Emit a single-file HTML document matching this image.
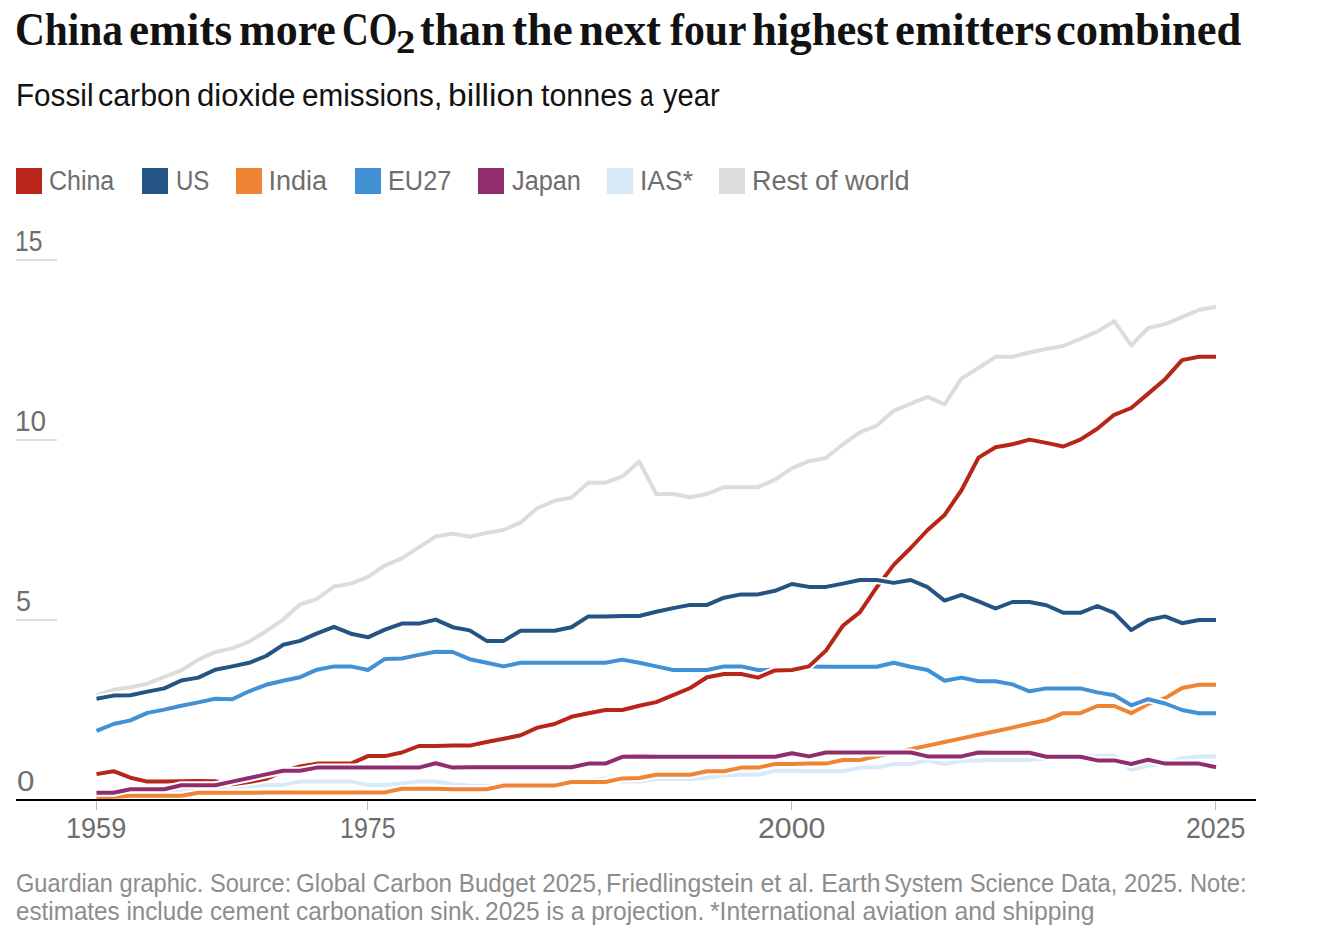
<!DOCTYPE html>
<html><head><meta charset="utf-8">
<style>
html,body{margin:0;padding:0;background:#fff;}
body{width:1322px;height:942px;position:relative;overflow:hidden;font-family:"Liberation Sans",sans-serif;}
.t{position:absolute;white-space:nowrap;}
.tw{top:2.4px;font-family:"Liberation Serif",serif;font-weight:bold;font-size:47px;color:#121212;line-height:54px;transform-origin:0 0;}
.sw{top:78px;font-size:31px;color:#121212;line-height:36px;transform-origin:0 0;}
.sq{position:absolute;top:168px;width:26px;height:26px;}
.lg{position:absolute;top:165px;transform-origin:0 0;font-size:27px;color:#6e6e6e;line-height:32px;}
.yl{position:absolute;font-size:29px;color:#6e6e6e;line-height:34px;transform-origin:0 0;}
.xl{position:absolute;top:811px;font-size:29px;color:#6e6e6e;line-height:34px;transform-origin:0 0;}
.foot{font-size:25px;color:#8d8d8d;line-height:28px;transform-origin:0 0;}
svg{position:absolute;left:0;top:0;}
.h{fill:none;stroke:#fff;stroke-width:8px;stroke-linejoin:round;}
.l{fill:none;stroke-width:4px;stroke-linejoin:round;}
</style></head><body>
<div class="t tw" style="left:15.24px;transform:scaleX(0.880)">China</div>
<div class="t tw" style="left:129.27px;transform:scaleX(0.964)">emits</div>
<div class="t tw" style="left:239.06px;transform:scaleX(0.936)">more</div>
<div class="t tw" style="left:342.13px;transform:scaleX(0.785)">CO</div>
<div class="t tw" style="left:420.06px;transform:scaleX(0.936)">than</div>
<div class="t tw" style="left:512.03px;transform:scaleX(0.970)">the</div>
<div class="t tw" style="left:579.05px;transform:scaleX(0.952)">next</div>
<div class="t tw" style="left:670.20px;transform:scaleX(0.890)">four</div>
<div class="t tw" style="left:752.05px;transform:scaleX(0.951)">highest</div>
<div class="t tw" style="left:894.90px;transform:scaleX(0.953)">emitters</div>
<div class="t tw" style="left:1055.60px;transform:scaleX(0.946)">combined</div>
<div class="t tw" style="left:395.66px;top:14.6px;font-size:33px;transform:scaleX(1.17)">2</div>
<div class="t sw" style="left:15.69px;transform:scaleX(0.957)">Fossil</div>
<div class="t sw" style="left:98.32px;transform:scaleX(0.979)">carbon</div>
<div class="t sw" style="left:196.90px;transform:scaleX(1.003)">dioxide</div>
<div class="t sw" style="left:302.04px;transform:scaleX(0.957)">emissions,</div>
<div class="t sw" style="left:447.63px;transform:scaleX(1.084)">billion</div>
<div class="t sw" style="left:541.40px;transform:scaleX(0.981)">tonnes</div>
<div class="t sw" style="left:639.91px;transform:scaleX(0.787)">a</div>
<div class="t sw" style="left:662.50px;transform:scaleX(0.939)">year</div>

<div class="sq" style="left:16px;background:#b8261a"></div><div class="t lg" style="left:49px;transform:scaleX(0.925)">China</div>
<div class="sq" style="left:142px;background:#245484"></div><div class="t lg" style="left:175.7px;transform:scaleX(0.89)">US</div>
<div class="sq" style="left:236px;background:#ee8434"></div><div class="t lg" style="left:268.5px;transform:scaleX(1.0)">India</div>
<div class="sq" style="left:355px;background:#4191d4"></div><div class="t lg" style="left:388.1px;transform:scaleX(0.937)">EU27</div>
<div class="sq" style="left:478px;background:#8f2d6e"></div><div class="t lg" style="left:511.6px;transform:scaleX(0.936)">Japan</div>
<div class="sq" style="left:607px;background:#d8e9fa"></div><div class="t lg" style="left:639.7px;transform:scaleX(0.98)">IAS*</div>
<div class="sq" style="left:719px;background:#dcdcdc"></div><div class="t lg" style="left:752px;transform:scaleX(1.0)">Rest of world</div>

<svg width="1322" height="942" viewBox="0 0 1322 942">
<rect x="16" y="259" width="41" height="2" fill="#dcdcdc"/>
<rect x="16" y="439" width="41" height="2" fill="#dcdcdc"/>
<rect x="16" y="619" width="41" height="2" fill="#dcdcdc"/>
<rect x="96" y="801" width="1" height="9" fill="#bdbdbd"/>
<rect x="367" y="801" width="1" height="9" fill="#bdbdbd"/>
<rect x="791" y="801" width="1" height="9" fill="#bdbdbd"/>
<rect x="1215" y="801" width="1" height="9" fill="#bdbdbd"/>
<path d="M96.5,695.2L113.5,689.8L130.4,687.3L147.4,683.7L164.3,676.9L181.3,670.4L198.3,659.6L215.2,652.0L232.2,648.4L249.2,641.6L266.1,631.2L283.1,619.6L300.0,604.5L317.0,598.8L334.0,586.5L350.9,583.6L367.9,576.8L384.9,565.3L401.8,558.4L418.8,547.3L435.7,536.5L452.7,533.6L469.7,536.8L486.6,532.9L503.6,530.0L520.6,522.4L537.5,508.0L554.5,500.8L571.4,497.6L588.4,482.8L605.4,482.8L622.3,476.4L639.3,461.6L656.2,494.0L673.2,494.0L690.2,497.2L707.1,494.0L724.1,487.2L741.1,487.2L758.0,487.2L775.0,479.6L791.9,468.4L808.9,461.2L825.9,458.0L842.8,444.3L859.8,432.4L876.8,425.6L893.7,410.8L910.7,403.6L927.6,396.8L944.6,404.4L961.6,378.4L978.5,368.0L995.5,356.8L1012.5,356.8L1029.4,352.5L1046.4,348.9L1063.3,346.0L1080.3,338.8L1097.3,331.6L1114.2,321.2L1131.2,345.3L1148.2,328.0L1165.1,324.1L1182.1,317.2L1199.0,310.0L1216.0,306.8" class="h"/>
<path d="M96.5,695.2L113.5,689.8L130.4,687.3L147.4,683.7L164.3,676.9L181.3,670.4L198.3,659.6L215.2,652.0L232.2,648.4L249.2,641.6L266.1,631.2L283.1,619.6L300.0,604.5L317.0,598.8L334.0,586.5L350.9,583.6L367.9,576.8L384.9,565.3L401.8,558.4L418.8,547.3L435.7,536.5L452.7,533.6L469.7,536.8L486.6,532.9L503.6,530.0L520.6,522.4L537.5,508.0L554.5,500.8L571.4,497.6L588.4,482.8L605.4,482.8L622.3,476.4L639.3,461.6L656.2,494.0L673.2,494.0L690.2,497.2L707.1,494.0L724.1,487.2L741.1,487.2L758.0,487.2L775.0,479.6L791.9,468.4L808.9,461.2L825.9,458.0L842.8,444.3L859.8,432.4L876.8,425.6L893.7,410.8L910.7,403.6L927.6,396.8L944.6,404.4L961.6,378.4L978.5,368.0L995.5,356.8L1012.5,356.8L1029.4,352.5L1046.4,348.9L1063.3,346.0L1080.3,338.8L1097.3,331.6L1114.2,321.2L1131.2,345.3L1148.2,328.0L1165.1,324.1L1182.1,317.2L1199.0,310.0L1216.0,306.8" stroke="#dcdcdc" class="l"/>
<path d="M96.5,792.1L113.5,791.7L130.4,791.4L147.4,790.3L164.3,789.9L181.3,789.9L198.3,789.2L215.2,788.1L232.2,787.0L249.2,786.3L266.1,784.9L283.1,784.9L300.0,781.6L317.0,781.6L334.0,781.6L350.9,781.6L367.9,784.9L384.9,784.9L401.8,783.4L418.8,781.6L435.7,781.6L452.7,784.2L469.7,785.6L486.6,786.0L503.6,786.0L520.6,785.6L537.5,785.2L554.5,784.9L571.4,783.4L588.4,780.2L605.4,778.4L622.3,781.6L639.3,781.6L656.2,779.1L673.2,779.1L690.2,779.1L707.1,777.7L724.1,775.2L741.1,774.8L758.0,774.8L775.0,770.8L791.9,770.8L808.9,771.2L825.9,771.2L842.8,771.2L859.8,767.6L876.8,767.6L893.7,764.0L910.7,764.0L927.6,760.4L944.6,764.0L961.6,760.8L978.5,760.4L995.5,760.0L1012.5,760.0L1029.4,760.0L1046.4,758.6L1063.3,757.5L1080.3,756.8L1097.3,755.7L1114.2,755.7L1131.2,769.8L1148.2,765.8L1165.1,763.3L1182.1,757.9L1199.0,756.4L1216.0,756.4" class="h"/>
<path d="M96.5,792.1L113.5,791.7L130.4,791.4L147.4,790.3L164.3,789.9L181.3,789.9L198.3,789.2L215.2,788.1L232.2,787.0L249.2,786.3L266.1,784.9L283.1,784.9L300.0,781.6L317.0,781.6L334.0,781.6L350.9,781.6L367.9,784.9L384.9,784.9L401.8,783.4L418.8,781.6L435.7,781.6L452.7,784.2L469.7,785.6L486.6,786.0L503.6,786.0L520.6,785.6L537.5,785.2L554.5,784.9L571.4,783.4L588.4,780.2L605.4,778.4L622.3,781.6L639.3,781.6L656.2,779.1L673.2,779.1L690.2,779.1L707.1,777.7L724.1,775.2L741.1,774.8L758.0,774.8L775.0,770.8L791.9,770.8L808.9,771.2L825.9,771.2L842.8,771.2L859.8,767.6L876.8,767.6L893.7,764.0L910.7,764.0L927.6,760.4L944.6,764.0L961.6,760.8L978.5,760.4L995.5,760.0L1012.5,760.0L1029.4,760.0L1046.4,758.6L1063.3,757.5L1080.3,756.8L1097.3,755.7L1114.2,755.7L1131.2,769.8L1148.2,765.8L1165.1,763.3L1182.1,757.9L1199.0,756.4L1216.0,756.4" stroke="#d8e9fa" class="l"/>
<path d="M96.5,797.1L113.5,797.1L130.4,795.7L147.4,795.7L164.3,795.7L181.3,795.7L198.3,792.8L215.2,792.8L232.2,792.8L249.2,792.8L266.1,792.4L283.1,792.4L300.0,792.4L317.0,792.4L334.0,792.4L350.9,792.4L367.9,792.4L384.9,792.4L401.8,788.8L418.8,788.8L435.7,788.8L452.7,789.2L469.7,789.2L486.6,789.2L503.6,785.6L520.6,785.6L537.5,785.6L554.5,785.6L571.4,782.0L588.4,782.0L605.4,782.0L622.3,778.4L639.3,778.0L656.2,774.8L673.2,774.8L690.2,774.8L707.1,771.2L724.1,771.2L741.1,767.6L758.0,767.6L775.0,764.0L791.9,764.0L808.9,763.6L825.9,763.6L842.8,760.0L859.8,760.0L876.8,756.4L893.7,752.8L910.7,749.2L927.6,745.6L944.6,742.0L961.6,738.4L978.5,734.8L995.5,731.2L1012.5,727.6L1029.4,723.7L1046.4,720.1L1063.3,713.2L1080.3,713.2L1097.3,706.0L1114.2,706.0L1131.2,713.2L1148.2,703.9L1165.1,698.1L1182.1,688.0L1199.0,684.8L1216.0,684.8" class="h"/>
<path d="M96.5,797.1L113.5,797.1L130.4,795.7L147.4,795.7L164.3,795.7L181.3,795.7L198.3,792.8L215.2,792.8L232.2,792.8L249.2,792.8L266.1,792.4L283.1,792.4L300.0,792.4L317.0,792.4L334.0,792.4L350.9,792.4L367.9,792.4L384.9,792.4L401.8,788.8L418.8,788.8L435.7,788.8L452.7,789.2L469.7,789.2L486.6,789.2L503.6,785.6L520.6,785.6L537.5,785.6L554.5,785.6L571.4,782.0L588.4,782.0L605.4,782.0L622.3,778.4L639.3,778.0L656.2,774.8L673.2,774.8L690.2,774.8L707.1,771.2L724.1,771.2L741.1,767.6L758.0,767.6L775.0,764.0L791.9,764.0L808.9,763.6L825.9,763.6L842.8,760.0L859.8,760.0L876.8,756.4L893.7,752.8L910.7,749.2L927.6,745.6L944.6,742.0L961.6,738.4L978.5,734.8L995.5,731.2L1012.5,727.6L1029.4,723.7L1046.4,720.1L1063.3,713.2L1080.3,713.2L1097.3,706.0L1114.2,706.0L1131.2,713.2L1148.2,703.9L1165.1,698.1L1182.1,688.0L1199.0,684.8L1216.0,684.8" stroke="#ee8434" class="l"/>
<path d="M96.5,730.9L113.5,724.0L130.4,720.4L147.4,712.9L164.3,709.6L181.3,705.7L198.3,702.4L215.2,698.8L232.2,699.2L249.2,691.3L266.1,684.8L283.1,680.8L300.0,677.2L317.0,669.7L334.0,666.4L350.9,666.4L367.9,670.0L384.9,658.9L401.8,658.5L418.8,654.9L435.7,651.7L452.7,652.0L469.7,659.2L486.6,662.8L503.6,666.4L520.6,662.8L537.5,662.8L554.5,662.8L571.4,662.8L588.4,662.8L605.4,662.8L622.3,659.6L639.3,662.8L656.2,666.4L673.2,670.0L690.2,670.0L707.1,670.0L724.1,666.4L741.1,666.4L758.0,670.0L775.0,669.7L791.9,669.3L808.9,666.4L825.9,666.8L842.8,666.8L859.8,666.8L876.8,666.8L893.7,662.8L910.7,666.8L927.6,670.0L944.6,680.8L961.6,677.6L978.5,681.2L995.5,681.2L1012.5,684.4L1029.4,691.3L1046.4,688.4L1063.3,688.4L1080.3,688.4L1097.3,692.4L1114.2,695.2L1131.2,705.3L1148.2,699.2L1165.1,703.5L1182.1,710.0L1199.0,713.2L1216.0,713.2" class="h"/>
<path d="M96.5,730.9L113.5,724.0L130.4,720.4L147.4,712.9L164.3,709.6L181.3,705.7L198.3,702.4L215.2,698.8L232.2,699.2L249.2,691.3L266.1,684.8L283.1,680.8L300.0,677.2L317.0,669.7L334.0,666.4L350.9,666.4L367.9,670.0L384.9,658.9L401.8,658.5L418.8,654.9L435.7,651.7L452.7,652.0L469.7,659.2L486.6,662.8L503.6,666.4L520.6,662.8L537.5,662.8L554.5,662.8L571.4,662.8L588.4,662.8L605.4,662.8L622.3,659.6L639.3,662.8L656.2,666.4L673.2,670.0L690.2,670.0L707.1,670.0L724.1,666.4L741.1,666.4L758.0,670.0L775.0,669.7L791.9,669.3L808.9,666.4L825.9,666.8L842.8,666.8L859.8,666.8L876.8,666.8L893.7,662.8L910.7,666.8L927.6,670.0L944.6,680.8L961.6,677.6L978.5,681.2L995.5,681.2L1012.5,684.4L1029.4,691.3L1046.4,688.4L1063.3,688.4L1080.3,688.4L1097.3,692.4L1114.2,695.2L1131.2,705.3L1148.2,699.2L1165.1,703.5L1182.1,710.0L1199.0,713.2L1216.0,713.2" stroke="#4191d4" class="l"/>
<path d="M96.5,774.1L113.5,771.2L130.4,777.7L147.4,781.6L164.3,781.6L181.3,781.3L198.3,780.9L215.2,781.3L232.2,784.2L249.2,782.0L266.1,778.8L283.1,771.2L300.0,766.5L317.0,763.6L334.0,763.6L350.9,763.6L367.9,756.1L384.9,756.1L401.8,752.5L418.8,746.0L435.7,746.0L452.7,745.6L469.7,745.6L486.6,742.0L503.6,738.8L520.6,735.2L537.5,727.6L554.5,724.0L571.4,716.8L588.4,713.2L605.4,710.0L622.3,710.0L639.3,705.7L656.2,702.1L673.2,695.2L690.2,688.0L707.1,677.2L724.1,674.0L741.1,674.0L758.0,677.6L775.0,670.4L791.9,670.0L808.9,666.4L825.9,650.6L842.8,625.8L859.8,612.4L876.8,587.2L893.7,564.9L910.7,548.0L927.6,530.0L944.6,514.9L961.6,490.0L978.5,457.6L995.5,447.2L1012.5,444.3L1029.4,439.6L1046.4,442.9L1063.3,446.5L1080.3,439.6L1097.3,428.8L1114.2,414.8L1131.2,408.0L1148.2,393.6L1165.1,379.2L1182.1,360.1L1199.0,356.8L1216.0,356.8" class="h"/>
<path d="M96.5,774.1L113.5,771.2L130.4,777.7L147.4,781.6L164.3,781.6L181.3,781.3L198.3,780.9L215.2,781.3L232.2,784.2L249.2,782.0L266.1,778.8L283.1,771.2L300.0,766.5L317.0,763.6L334.0,763.6L350.9,763.6L367.9,756.1L384.9,756.1L401.8,752.5L418.8,746.0L435.7,746.0L452.7,745.6L469.7,745.6L486.6,742.0L503.6,738.8L520.6,735.2L537.5,727.6L554.5,724.0L571.4,716.8L588.4,713.2L605.4,710.0L622.3,710.0L639.3,705.7L656.2,702.1L673.2,695.2L690.2,688.0L707.1,677.2L724.1,674.0L741.1,674.0L758.0,677.6L775.0,670.4L791.9,670.0L808.9,666.4L825.9,650.6L842.8,625.8L859.8,612.4L876.8,587.2L893.7,564.9L910.7,548.0L927.6,530.0L944.6,514.9L961.6,490.0L978.5,457.6L995.5,447.2L1012.5,444.3L1029.4,439.6L1046.4,442.9L1063.3,446.5L1080.3,439.6L1097.3,428.8L1114.2,414.8L1131.2,408.0L1148.2,393.6L1165.1,379.2L1182.1,360.1L1199.0,356.8L1216.0,356.8" stroke="#b8261a" class="l"/>
<path d="M96.5,698.8L113.5,695.6L130.4,695.2L147.4,691.6L164.3,688.4L181.3,680.5L198.3,677.6L215.2,669.7L232.2,666.4L249.2,662.8L266.1,656.0L283.1,644.8L300.0,640.9L317.0,633.3L334.0,626.8L350.9,633.7L367.9,637.3L384.9,629.7L401.8,623.6L418.8,623.6L435.7,619.6L452.7,627.2L469.7,630.4L486.6,640.9L503.6,640.9L520.6,630.8L537.5,630.8L554.5,630.8L571.4,627.2L588.4,616.4L605.4,616.4L622.3,616.0L639.3,616.0L656.2,611.7L673.2,608.1L690.2,604.9L707.1,604.9L724.1,597.7L741.1,594.4L758.0,594.4L775.0,590.8L791.9,584.0L808.9,586.9L825.9,586.9L842.8,583.6L859.8,580.0L876.8,580.0L893.7,582.9L910.7,580.0L927.6,587.2L944.6,600.6L961.6,594.8L978.5,601.3L995.5,608.5L1012.5,602.0L1029.4,602.0L1046.4,605.2L1063.3,612.8L1080.3,612.8L1097.3,606.0L1114.2,612.8L1131.2,630.1L1148.2,620.0L1165.1,616.4L1182.1,623.2L1199.0,620.0L1216.0,620.0" class="h"/>
<path d="M96.5,698.8L113.5,695.6L130.4,695.2L147.4,691.6L164.3,688.4L181.3,680.5L198.3,677.6L215.2,669.7L232.2,666.4L249.2,662.8L266.1,656.0L283.1,644.8L300.0,640.9L317.0,633.3L334.0,626.8L350.9,633.7L367.9,637.3L384.9,629.7L401.8,623.6L418.8,623.6L435.7,619.6L452.7,627.2L469.7,630.4L486.6,640.9L503.6,640.9L520.6,630.8L537.5,630.8L554.5,630.8L571.4,627.2L588.4,616.4L605.4,616.4L622.3,616.0L639.3,616.0L656.2,611.7L673.2,608.1L690.2,604.9L707.1,604.9L724.1,597.7L741.1,594.4L758.0,594.4L775.0,590.8L791.9,584.0L808.9,586.9L825.9,586.9L842.8,583.6L859.8,580.0L876.8,580.0L893.7,582.9L910.7,580.0L927.6,587.2L944.6,600.6L961.6,594.8L978.5,601.3L995.5,608.5L1012.5,602.0L1029.4,602.0L1046.4,605.2L1063.3,612.8L1080.3,612.8L1097.3,606.0L1114.2,612.8L1131.2,630.1L1148.2,620.0L1165.1,616.4L1182.1,623.2L1199.0,620.0L1216.0,620.0" stroke="#245484" class="l"/>
<path d="M96.5,792.8L113.5,792.8L130.4,789.2L147.4,789.2L164.3,789.2L181.3,785.2L198.3,785.2L215.2,785.2L232.2,781.6L249.2,778.0L266.1,774.4L283.1,770.8L300.0,770.8L317.0,767.6L334.0,767.6L350.9,767.6L367.9,767.6L384.9,767.6L401.8,767.6L418.8,767.6L435.7,763.3L452.7,767.6L469.7,767.2L486.6,767.2L503.6,767.2L520.6,767.2L537.5,767.2L554.5,767.2L571.4,767.2L588.4,763.6L605.4,763.6L622.3,756.8L639.3,756.4L656.2,756.8L673.2,756.8L690.2,756.8L707.1,756.8L724.1,756.8L741.1,756.8L758.0,756.8L775.0,756.8L791.9,753.2L808.9,756.4L825.9,752.5L842.8,752.5L859.8,752.5L876.8,752.5L893.7,752.5L910.7,752.5L927.6,756.4L944.6,756.4L961.6,756.4L978.5,752.5L995.5,752.8L1012.5,752.8L1029.4,752.8L1046.4,756.8L1063.3,756.8L1080.3,756.8L1097.3,760.4L1114.2,760.4L1131.2,764.0L1148.2,759.7L1165.1,763.6L1182.1,763.6L1199.0,763.6L1216.0,767.2" class="h"/>
<path d="M96.5,792.8L113.5,792.8L130.4,789.2L147.4,789.2L164.3,789.2L181.3,785.2L198.3,785.2L215.2,785.2L232.2,781.6L249.2,778.0L266.1,774.4L283.1,770.8L300.0,770.8L317.0,767.6L334.0,767.6L350.9,767.6L367.9,767.6L384.9,767.6L401.8,767.6L418.8,767.6L435.7,763.3L452.7,767.6L469.7,767.2L486.6,767.2L503.6,767.2L520.6,767.2L537.5,767.2L554.5,767.2L571.4,767.2L588.4,763.6L605.4,763.6L622.3,756.8L639.3,756.4L656.2,756.8L673.2,756.8L690.2,756.8L707.1,756.8L724.1,756.8L741.1,756.8L758.0,756.8L775.0,756.8L791.9,753.2L808.9,756.4L825.9,752.5L842.8,752.5L859.8,752.5L876.8,752.5L893.7,752.5L910.7,752.5L927.6,756.4L944.6,756.4L961.6,756.4L978.5,752.5L995.5,752.8L1012.5,752.8L1029.4,752.8L1046.4,756.8L1063.3,756.8L1080.3,756.8L1097.3,760.4L1114.2,760.4L1131.2,764.0L1148.2,759.7L1165.1,763.6L1182.1,763.6L1199.0,763.6L1216.0,767.2" stroke="#8f2d6e" class="l"/>
<rect x="16" y="799" width="1240" height="2" fill="#000"/>
</svg>

<div class="t yl" style="top:224px;left:15.3px;transform:scaleX(0.85)">15</div>
<div class="t yl" style="top:404px;left:15px;transform:scaleX(0.964)">10</div>
<div class="t yl" style="top:584px;left:16.07px;transform:scaleX(0.93)">5</div>
<div class="t yl" style="top:764.4px;left:17.2px;transform:scaleX(1.08)">0</div>
<div class="t xl" style="left:66.13px;transform:scaleX(0.933)">1959</div>
<div class="t xl" style="left:339.5px;transform:scaleX(0.861)">1975</div>
<div class="t xl" style="left:758.26px;transform:scaleX(1.044)">2000</div>
<div class="t xl" style="left:1186.08px;transform:scaleX(0.919)">2025</div>

<div class="t foot" style="top:869px;left:15.86px;transform:scaleX(0.943)">Guardian graphic. Source:</div>
<div class="t foot" style="top:869px;left:295.93px;transform:scaleX(0.968)">Global Carbon Budget 2025,</div>
<div class="t foot" style="top:869px;left:605.61px;transform:scaleX(0.993)">Friedlingstein et al. Earth</div>
<div class="t foot" style="top:869px;left:884.05px;transform:scaleX(0.949)">System Science Data, 2025. Note:</div>
<div class="t foot" style="top:897px;left:16.03px;transform:scaleX(0.969)">estimates include cement</div>
<div class="t foot" style="top:897px;left:296.02px;transform:scaleX(0.976)">carbonation sink.</div>
<div class="t foot" style="top:897px;left:484.52px;transform:scaleX(0.980)">2025 is a projection.</div>
<div class="t foot" style="top:897px;left:709.61px;transform:scaleX(0.988)">*International aviation and shipping</div>
</body></html>
